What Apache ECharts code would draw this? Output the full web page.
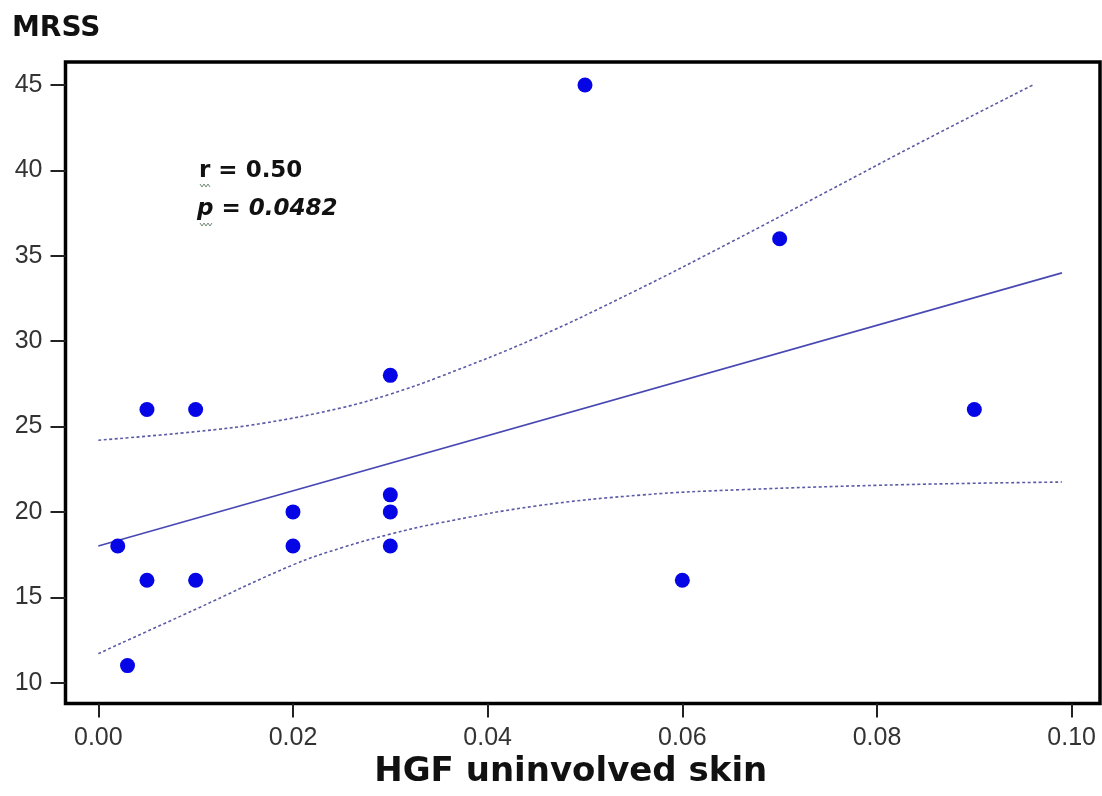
<!DOCTYPE html>
<html>
<head>
<meta charset="utf-8">
<title>MRSS vs HGF uninvolved skin</title>
<script src="https://cdn.jsdelivr.net/npm/echarts@6/dist/echarts.min.js"></script>
<style>
  html, body { margin: 0; padding: 0; background: #ffffff; }
  #chart { width: 1102px; height: 796px; }
</style>
</head>
<body>
<div id="chart"></div>
<script>
// Observations: HGF level in uninvolved skin vs modified Rodnan skin score
const hgf  = [0.002, 0.003, 0.005, 0.005, 0.010, 0.010, 0.020, 0.020, 0.030, 0.030, 0.030, 0.030, 0.050, 0.060, 0.070, 0.090];
const mrss = [18, 11, 26, 16, 26, 16, 20, 18, 28, 21, 20, 18, 45, 16, 36, 26];

// Regression line end points
const fitX = [0.000, 0.099];
const fitY = [18.0, 34.0];

// Upper and lower confidence curves
const upperX = [0.000, 0.010, 0.017, 0.025, 0.030, 0.035, 0.045, 0.055, 0.065, 0.075, 0.085, 0.096];
const upperY = [24.2, 24.7, 25.2, 26.1, 26.9, 27.9, 30.2, 32.9, 35.8, 38.8, 41.8, 45.0];
const lowerX = [0.000, 0.010, 0.020, 0.025, 0.030, 0.035, 0.045, 0.056, 0.066, 0.083, 0.099];
const lowerY = [11.7, 14.3, 16.9, 17.9, 18.7, 19.35, 20.35, 21.0, 21.3, 21.6, 21.75];

// Tick values
const xTicks = [0.00, 0.02, 0.04, 0.06, 0.08, 0.10];
const yTicks = [10, 15, 20, 25, 30, 35, 40, 45];

const xTitle = 'HGF uninvolved skin';
const yTitle = 'MRSS';
const statR = 'r = 0.50';
const statP = 'p = 0.0482';

const zip = (a, b) => a.map((v, i) => [v, b[i]]);

const chart = echarts.init(document.getElementById('chart'), null, { renderer: 'canvas' });

const tickFont = { fontFamily: '"Liberation Sans", Arial, sans-serif', fontSize: 25, color: '#333333' };
const bandStyle = { color: '#5b5ba6', width: 1.6, type: [3, 2.5] };

chart.setOption({
  animation: false,
  backgroundColor: '#ffffff',
  grid: {
    left: 65.5, right: 2, top: 62, bottom: 92.5,
    show: true, borderColor: '#000000', borderWidth: 3.5, backgroundColor: 'transparent'
  },
  xAxis: {
    type: 'value',
    min: -0.00337, max: 0.10291,
    name: xTitle,
    nameLocation: 'middle',
    nameGap: 51,
    nameTextStyle: {
      fontFamily: '"DejaVu Sans", sans-serif', fontWeight: 'bold', fontSize: 34,
      color: '#111111', padding: [0, 24, 0, 0]
    },
    axisLine: { show: false, onZero: false },
    axisTick: {
      show: true, length: 14, customValues: xTicks,
      lineStyle: { color: '#222222', width: 2 }
    },
    axisLabel: {
      show: true, margin: 22, customValues: xTicks,
      formatter: v => v.toFixed(2),
      ...tickFont
    },
    splitLine: { show: false }
  },
  yAxis: {
    type: 'value',
    min: 8.78, max: 46.35,
    axisLine: { show: false, onZero: false },
    axisTick: {
      show: true, length: 15, customValues: yTicks,
      lineStyle: { color: '#222222', width: 2 }
    },
    axisLabel: {
      show: true, margin: 23, customValues: yTicks,
      formatter: v => String(v),
      ...tickFont
    },
    splitLine: { show: false }
  },
  graphic: [
    {
      type: 'text', left: 12, top: 15,
      style: { text: yTitle, font: 'bold 28px "DejaVu Sans", sans-serif', fill: '#111111' }
    },
    {
      type: 'text', x: 199, y: 171,
      style: { text: statR, font: 'bold 23px "DejaVu Sans", sans-serif', fill: '#111111', verticalAlign: 'middle' }
    },
    {
      type: 'text', x: 197, y: 209,
      style: { text: statP, font: 'italic bold 23px "DejaVu Sans", sans-serif', fill: '#111111', verticalAlign: 'middle' }
    },
    {
      type: 'polyline',
      shape: { points: [[200, 184], [202, 187], [204, 184], [206, 187], [208, 184], [210, 187]] },
      style: { stroke: '#6f8a72', lineWidth: 1, fill: null }
    },
    {
      type: 'polyline',
      shape: { points: [[200, 223], [202, 226], [204, 223], [206, 226], [208, 223], [210, 226], [212, 223]] },
      style: { stroke: '#6f8a72', lineWidth: 1, fill: null }
    }
  ],
  series: [
    {
      name: 'Upper limit',
      type: 'line',
      data: zip(upperX, upperY),
      smooth: 0.4,
      symbol: 'none',
      lineStyle: bandStyle,
      z: 2
    },
    {
      name: 'Lower limit',
      type: 'line',
      data: zip(lowerX, lowerY),
      smooth: 0.4,
      symbol: 'none',
      lineStyle: bandStyle,
      z: 2
    },
    {
      name: 'Fit',
      type: 'line',
      data: zip(fitX, fitY),
      symbol: 'none',
      lineStyle: { color: '#4848b4', width: 1.6 },
      z: 3
    },
    {
      name: 'MRSS',
      type: 'scatter',
      data: zip(hgf, mrss),
      symbol: 'circle',
      symbolSize: 15,
      itemStyle: { color: '#0505e6', opacity: 1 },
      z: 4
    }
  ]
});
</script>
</body>
</html>
